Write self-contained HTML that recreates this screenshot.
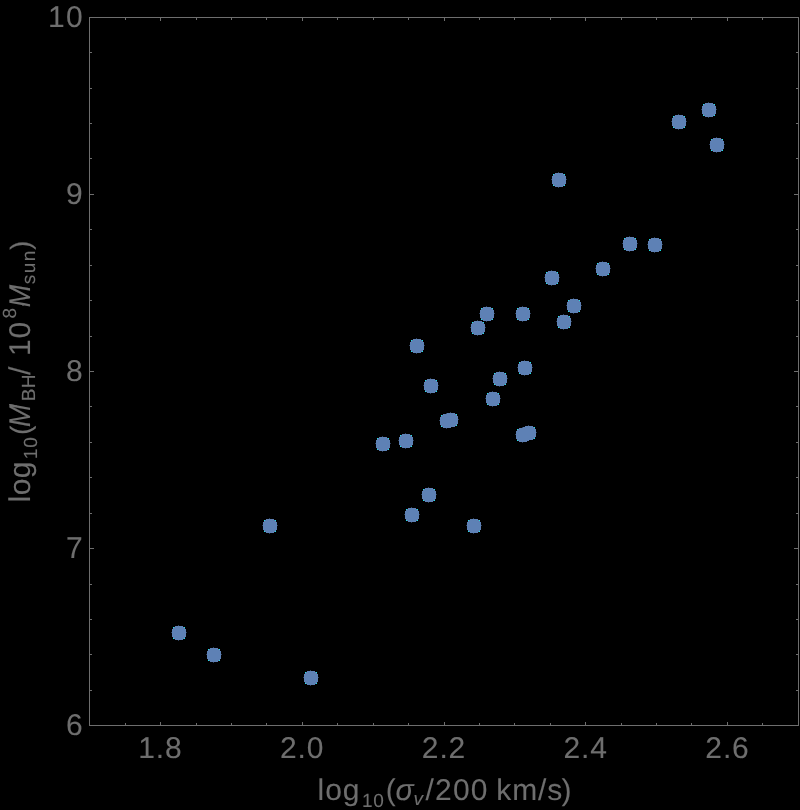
<!DOCTYPE html>
<html><head><meta charset="utf-8"><title>Chart</title>
<style>html,body{margin:0;padding:0;background:#000;}body{width:800px;height:810px;overflow:hidden;position:relative;font-family:"Liberation Sans",sans-serif;}</style></head>
<body>
<svg width="800" height="810" viewBox="0 0 800 810" style="position:absolute;left:0;top:0;will-change:transform">
<g shape-rendering="crispEdges" fill="#6e6e6e">
<rect x="89" y="17" width="710" height="1"/>
<rect x="89" y="725" width="710" height="1"/>
<rect x="89" y="17" width="1" height="709"/>
<rect x="798" y="17" width="1" height="709"/>
<rect x="125" y="723" width="1" height="2"/>
<rect x="125" y="18" width="1" height="2"/>
<rect x="160" y="722" width="1" height="3"/>
<rect x="160" y="18" width="1" height="3"/>
<rect x="196" y="723" width="1" height="2"/>
<rect x="196" y="18" width="1" height="2"/>
<rect x="231" y="723" width="1" height="2"/>
<rect x="231" y="18" width="1" height="2"/>
<rect x="266" y="723" width="1" height="2"/>
<rect x="266" y="18" width="1" height="2"/>
<rect x="302" y="722" width="1" height="3"/>
<rect x="302" y="18" width="1" height="3"/>
<rect x="337" y="723" width="1" height="2"/>
<rect x="337" y="18" width="1" height="2"/>
<rect x="373" y="723" width="1" height="2"/>
<rect x="373" y="18" width="1" height="2"/>
<rect x="408" y="723" width="1" height="2"/>
<rect x="408" y="18" width="1" height="2"/>
<rect x="444" y="722" width="1" height="3"/>
<rect x="444" y="18" width="1" height="3"/>
<rect x="479" y="723" width="1" height="2"/>
<rect x="479" y="18" width="1" height="2"/>
<rect x="514" y="723" width="1" height="2"/>
<rect x="514" y="18" width="1" height="2"/>
<rect x="550" y="723" width="1" height="2"/>
<rect x="550" y="18" width="1" height="2"/>
<rect x="585" y="722" width="1" height="3"/>
<rect x="585" y="18" width="1" height="3"/>
<rect x="621" y="723" width="1" height="2"/>
<rect x="621" y="18" width="1" height="2"/>
<rect x="656" y="723" width="1" height="2"/>
<rect x="656" y="18" width="1" height="2"/>
<rect x="691" y="723" width="1" height="2"/>
<rect x="691" y="18" width="1" height="2"/>
<rect x="727" y="722" width="1" height="3"/>
<rect x="727" y="18" width="1" height="3"/>
<rect x="762" y="723" width="1" height="2"/>
<rect x="762" y="18" width="1" height="2"/>
<rect x="90" y="690" width="2" height="1"/>
<rect x="796" y="690" width="2" height="1"/>
<rect x="90" y="654" width="2" height="1"/>
<rect x="796" y="654" width="2" height="1"/>
<rect x="90" y="619" width="2" height="1"/>
<rect x="796" y="619" width="2" height="1"/>
<rect x="90" y="584" width="2" height="1"/>
<rect x="796" y="584" width="2" height="1"/>
<rect x="90" y="548" width="4" height="1"/>
<rect x="794" y="548" width="4" height="1"/>
<rect x="90" y="513" width="2" height="1"/>
<rect x="796" y="513" width="2" height="1"/>
<rect x="90" y="477" width="2" height="1"/>
<rect x="796" y="477" width="2" height="1"/>
<rect x="90" y="442" width="2" height="1"/>
<rect x="796" y="442" width="2" height="1"/>
<rect x="90" y="406" width="2" height="1"/>
<rect x="796" y="406" width="2" height="1"/>
<rect x="90" y="371" width="4" height="1"/>
<rect x="794" y="371" width="4" height="1"/>
<rect x="90" y="336" width="2" height="1"/>
<rect x="796" y="336" width="2" height="1"/>
<rect x="90" y="300" width="2" height="1"/>
<rect x="796" y="300" width="2" height="1"/>
<rect x="90" y="265" width="2" height="1"/>
<rect x="796" y="265" width="2" height="1"/>
<rect x="90" y="229" width="2" height="1"/>
<rect x="796" y="229" width="2" height="1"/>
<rect x="90" y="194" width="4" height="1"/>
<rect x="794" y="194" width="4" height="1"/>
<rect x="90" y="158" width="2" height="1"/>
<rect x="796" y="158" width="2" height="1"/>
<rect x="90" y="123" width="2" height="1"/>
<rect x="796" y="123" width="2" height="1"/>
<rect x="90" y="88" width="2" height="1"/>
<rect x="796" y="88" width="2" height="1"/>
<rect x="90" y="52" width="2" height="1"/>
<rect x="796" y="52" width="2" height="1"/>
</g>
<g shape-rendering="crispEdges" fill="#1ee6e6">
<g transform="translate(172,626)"><rect x="1" y="1" width="1" height="1"/><rect x="12" y="1" width="1" height="1"/><rect x="1" y="12" width="1" height="1"/><rect x="12" y="12" width="1" height="1"/><g fill="#5e81b5" fill-opacity="0.5"><rect x="6" y="-1" width="1" height="1"/><rect x="6" y="14" width="1" height="1"/><rect x="-1" y="6" width="1" height="1"/><rect x="14" y="6" width="1" height="1"/></g></g>
<g transform="translate(207,648)"><rect x="1" y="1" width="1" height="1"/><rect x="12" y="1" width="1" height="1"/><rect x="1" y="12" width="1" height="1"/><rect x="12" y="12" width="1" height="1"/><g fill="#5e81b5" fill-opacity="0.5"><rect x="6" y="-1" width="1" height="1"/><rect x="6" y="14" width="1" height="1"/><rect x="-1" y="6" width="1" height="1"/><rect x="14" y="6" width="1" height="1"/></g></g>
<g transform="translate(304,671)"><rect x="1" y="1" width="1" height="1"/><rect x="12" y="1" width="1" height="1"/><rect x="1" y="12" width="1" height="1"/><rect x="12" y="12" width="1" height="1"/><g fill="#5e81b5" fill-opacity="0.5"><rect x="6" y="-1" width="1" height="1"/><rect x="6" y="14" width="1" height="1"/><rect x="-1" y="6" width="1" height="1"/><rect x="14" y="6" width="1" height="1"/></g></g>
<g transform="translate(263,519)"><rect x="1" y="1" width="1" height="1"/><rect x="12" y="1" width="1" height="1"/><rect x="1" y="12" width="1" height="1"/><rect x="12" y="12" width="1" height="1"/><g fill="#5e81b5" fill-opacity="0.5"><rect x="6" y="-1" width="1" height="1"/><rect x="6" y="14" width="1" height="1"/><rect x="-1" y="6" width="1" height="1"/><rect x="14" y="6" width="1" height="1"/></g></g>
<g transform="translate(376,437)"><rect x="1" y="1" width="1" height="1"/><rect x="12" y="1" width="1" height="1"/><rect x="1" y="12" width="1" height="1"/><rect x="12" y="12" width="1" height="1"/><g fill="#5e81b5" fill-opacity="0.5"><rect x="6" y="-1" width="1" height="1"/><rect x="6" y="14" width="1" height="1"/><rect x="-1" y="6" width="1" height="1"/><rect x="14" y="6" width="1" height="1"/></g></g>
<g transform="translate(399,434)"><rect x="1" y="1" width="1" height="1"/><rect x="12" y="1" width="1" height="1"/><rect x="1" y="12" width="1" height="1"/><rect x="12" y="12" width="1" height="1"/><g fill="#5e81b5" fill-opacity="0.5"><rect x="6" y="-1" width="1" height="1"/><rect x="6" y="14" width="1" height="1"/><rect x="-1" y="6" width="1" height="1"/><rect x="14" y="6" width="1" height="1"/></g></g>
<g transform="translate(440,414)"><rect x="1" y="1" width="1" height="1"/><rect x="12" y="1" width="1" height="1"/><rect x="1" y="12" width="1" height="1"/><rect x="12" y="12" width="1" height="1"/><g fill="#5e81b5" fill-opacity="0.5"><rect x="6" y="-1" width="1" height="1"/><rect x="6" y="14" width="1" height="1"/><rect x="-1" y="6" width="1" height="1"/><rect x="14" y="6" width="1" height="1"/></g></g>
<g transform="translate(444,413)"><rect x="1" y="1" width="1" height="1"/><rect x="12" y="1" width="1" height="1"/><rect x="1" y="12" width="1" height="1"/><rect x="12" y="12" width="1" height="1"/><g fill="#5e81b5" fill-opacity="0.5"><rect x="6" y="-1" width="1" height="1"/><rect x="6" y="14" width="1" height="1"/><rect x="-1" y="6" width="1" height="1"/><rect x="14" y="6" width="1" height="1"/></g></g>
<g transform="translate(422,488)"><rect x="1" y="1" width="1" height="1"/><rect x="12" y="1" width="1" height="1"/><rect x="1" y="12" width="1" height="1"/><rect x="12" y="12" width="1" height="1"/><g fill="#5e81b5" fill-opacity="0.5"><rect x="6" y="-1" width="1" height="1"/><rect x="6" y="14" width="1" height="1"/><rect x="-1" y="6" width="1" height="1"/><rect x="14" y="6" width="1" height="1"/></g></g>
<g transform="translate(410,339)"><rect x="1" y="1" width="1" height="1"/><rect x="12" y="1" width="1" height="1"/><rect x="1" y="12" width="1" height="1"/><rect x="12" y="12" width="1" height="1"/><g fill="#5e81b5" fill-opacity="0.5"><rect x="6" y="-1" width="1" height="1"/><rect x="6" y="14" width="1" height="1"/><rect x="-1" y="6" width="1" height="1"/><rect x="14" y="6" width="1" height="1"/></g></g>
<g transform="translate(424,379)"><rect x="1" y="1" width="1" height="1"/><rect x="12" y="1" width="1" height="1"/><rect x="1" y="12" width="1" height="1"/><rect x="12" y="12" width="1" height="1"/><g fill="#5e81b5" fill-opacity="0.5"><rect x="6" y="-1" width="1" height="1"/><rect x="6" y="14" width="1" height="1"/><rect x="-1" y="6" width="1" height="1"/><rect x="14" y="6" width="1" height="1"/></g></g>
<g transform="translate(471,321)"><rect x="1" y="1" width="1" height="1"/><rect x="12" y="1" width="1" height="1"/><rect x="1" y="12" width="1" height="1"/><rect x="12" y="12" width="1" height="1"/><g fill="#5e81b5" fill-opacity="0.5"><rect x="6" y="-1" width="1" height="1"/><rect x="6" y="14" width="1" height="1"/><rect x="-1" y="6" width="1" height="1"/><rect x="14" y="6" width="1" height="1"/></g></g>
<g transform="translate(480,307)"><rect x="1" y="1" width="1" height="1"/><rect x="12" y="1" width="1" height="1"/><rect x="1" y="12" width="1" height="1"/><rect x="12" y="12" width="1" height="1"/><g fill="#5e81b5" fill-opacity="0.5"><rect x="6" y="-1" width="1" height="1"/><rect x="6" y="14" width="1" height="1"/><rect x="-1" y="6" width="1" height="1"/><rect x="14" y="6" width="1" height="1"/></g></g>
<g transform="translate(493,372)"><rect x="1" y="1" width="1" height="1"/><rect x="12" y="1" width="1" height="1"/><rect x="1" y="12" width="1" height="1"/><rect x="12" y="12" width="1" height="1"/><g fill="#5e81b5" fill-opacity="0.5"><rect x="6" y="-1" width="1" height="1"/><rect x="6" y="14" width="1" height="1"/><rect x="-1" y="6" width="1" height="1"/><rect x="14" y="6" width="1" height="1"/></g></g>
<g transform="translate(486,392)"><rect x="1" y="1" width="1" height="1"/><rect x="12" y="1" width="1" height="1"/><rect x="1" y="12" width="1" height="1"/><rect x="12" y="12" width="1" height="1"/><g fill="#5e81b5" fill-opacity="0.5"><rect x="6" y="-1" width="1" height="1"/><rect x="6" y="14" width="1" height="1"/><rect x="-1" y="6" width="1" height="1"/><rect x="14" y="6" width="1" height="1"/></g></g>
<g transform="translate(516,307)"><rect x="1" y="1" width="1" height="1"/><rect x="12" y="1" width="1" height="1"/><rect x="1" y="12" width="1" height="1"/><rect x="12" y="12" width="1" height="1"/><g fill="#5e81b5" fill-opacity="0.5"><rect x="6" y="-1" width="1" height="1"/><rect x="6" y="14" width="1" height="1"/><rect x="-1" y="6" width="1" height="1"/><rect x="14" y="6" width="1" height="1"/></g></g>
<g transform="translate(545,271)"><rect x="1" y="1" width="1" height="1"/><rect x="12" y="1" width="1" height="1"/><rect x="1" y="12" width="1" height="1"/><rect x="12" y="12" width="1" height="1"/><g fill="#5e81b5" fill-opacity="0.5"><rect x="6" y="-1" width="1" height="1"/><rect x="6" y="14" width="1" height="1"/><rect x="-1" y="6" width="1" height="1"/><rect x="14" y="6" width="1" height="1"/></g></g>
<g transform="translate(567,299)"><rect x="1" y="1" width="1" height="1"/><rect x="12" y="1" width="1" height="1"/><rect x="1" y="12" width="1" height="1"/><rect x="12" y="12" width="1" height="1"/><g fill="#5e81b5" fill-opacity="0.5"><rect x="6" y="-1" width="1" height="1"/><rect x="6" y="14" width="1" height="1"/><rect x="-1" y="6" width="1" height="1"/><rect x="14" y="6" width="1" height="1"/></g></g>
<g transform="translate(557,315)"><rect x="1" y="1" width="1" height="1"/><rect x="12" y="1" width="1" height="1"/><rect x="1" y="12" width="1" height="1"/><rect x="12" y="12" width="1" height="1"/><g fill="#5e81b5" fill-opacity="0.5"><rect x="6" y="-1" width="1" height="1"/><rect x="6" y="14" width="1" height="1"/><rect x="-1" y="6" width="1" height="1"/><rect x="14" y="6" width="1" height="1"/></g></g>
<g transform="translate(596,262)"><rect x="1" y="1" width="1" height="1"/><rect x="12" y="1" width="1" height="1"/><rect x="1" y="12" width="1" height="1"/><rect x="12" y="12" width="1" height="1"/><g fill="#5e81b5" fill-opacity="0.5"><rect x="6" y="-1" width="1" height="1"/><rect x="6" y="14" width="1" height="1"/><rect x="-1" y="6" width="1" height="1"/><rect x="14" y="6" width="1" height="1"/></g></g>
<g transform="translate(518,361)"><rect x="1" y="1" width="1" height="1"/><rect x="12" y="1" width="1" height="1"/><rect x="1" y="12" width="1" height="1"/><rect x="12" y="12" width="1" height="1"/><g fill="#5e81b5" fill-opacity="0.5"><rect x="6" y="-1" width="1" height="1"/><rect x="6" y="14" width="1" height="1"/><rect x="-1" y="6" width="1" height="1"/><rect x="14" y="6" width="1" height="1"/></g></g>
<g transform="translate(516,428)"><rect x="1" y="1" width="1" height="1"/><rect x="12" y="1" width="1" height="1"/><rect x="1" y="12" width="1" height="1"/><rect x="12" y="12" width="1" height="1"/><g fill="#5e81b5" fill-opacity="0.5"><rect x="6" y="-1" width="1" height="1"/><rect x="6" y="14" width="1" height="1"/><rect x="-1" y="6" width="1" height="1"/><rect x="14" y="6" width="1" height="1"/></g></g>
<g transform="translate(522,426)"><rect x="1" y="1" width="1" height="1"/><rect x="12" y="1" width="1" height="1"/><rect x="1" y="12" width="1" height="1"/><rect x="12" y="12" width="1" height="1"/><g fill="#5e81b5" fill-opacity="0.5"><rect x="6" y="-1" width="1" height="1"/><rect x="6" y="14" width="1" height="1"/><rect x="-1" y="6" width="1" height="1"/><rect x="14" y="6" width="1" height="1"/></g></g>
<g transform="translate(552,173)"><rect x="1" y="1" width="1" height="1"/><rect x="12" y="1" width="1" height="1"/><rect x="1" y="12" width="1" height="1"/><rect x="12" y="12" width="1" height="1"/><g fill="#5e81b5" fill-opacity="0.5"><rect x="6" y="-1" width="1" height="1"/><rect x="6" y="14" width="1" height="1"/><rect x="-1" y="6" width="1" height="1"/><rect x="14" y="6" width="1" height="1"/></g></g>
<g transform="translate(623,237)"><rect x="1" y="1" width="1" height="1"/><rect x="12" y="1" width="1" height="1"/><rect x="1" y="12" width="1" height="1"/><rect x="12" y="12" width="1" height="1"/><g fill="#5e81b5" fill-opacity="0.5"><rect x="6" y="-1" width="1" height="1"/><rect x="6" y="14" width="1" height="1"/><rect x="-1" y="6" width="1" height="1"/><rect x="14" y="6" width="1" height="1"/></g></g>
<g transform="translate(648,238)"><rect x="1" y="1" width="1" height="1"/><rect x="12" y="1" width="1" height="1"/><rect x="1" y="12" width="1" height="1"/><rect x="12" y="12" width="1" height="1"/><g fill="#5e81b5" fill-opacity="0.5"><rect x="6" y="-1" width="1" height="1"/><rect x="6" y="14" width="1" height="1"/><rect x="-1" y="6" width="1" height="1"/><rect x="14" y="6" width="1" height="1"/></g></g>
<g transform="translate(672,115)"><rect x="1" y="1" width="1" height="1"/><rect x="12" y="1" width="1" height="1"/><rect x="1" y="12" width="1" height="1"/><rect x="12" y="12" width="1" height="1"/><g fill="#5e81b5" fill-opacity="0.5"><rect x="6" y="-1" width="1" height="1"/><rect x="6" y="14" width="1" height="1"/><rect x="-1" y="6" width="1" height="1"/><rect x="14" y="6" width="1" height="1"/></g></g>
<g transform="translate(702,103)"><rect x="1" y="1" width="1" height="1"/><rect x="12" y="1" width="1" height="1"/><rect x="1" y="12" width="1" height="1"/><rect x="12" y="12" width="1" height="1"/><g fill="#5e81b5" fill-opacity="0.5"><rect x="6" y="-1" width="1" height="1"/><rect x="6" y="14" width="1" height="1"/><rect x="-1" y="6" width="1" height="1"/><rect x="14" y="6" width="1" height="1"/></g></g>
<g transform="translate(710,138)"><rect x="1" y="1" width="1" height="1"/><rect x="12" y="1" width="1" height="1"/><rect x="1" y="12" width="1" height="1"/><rect x="12" y="12" width="1" height="1"/><g fill="#5e81b5" fill-opacity="0.5"><rect x="6" y="-1" width="1" height="1"/><rect x="6" y="14" width="1" height="1"/><rect x="-1" y="6" width="1" height="1"/><rect x="14" y="6" width="1" height="1"/></g></g>
<g transform="translate(405,508)"><rect x="1" y="1" width="1" height="1"/><rect x="12" y="1" width="1" height="1"/><rect x="1" y="12" width="1" height="1"/><rect x="12" y="12" width="1" height="1"/><g fill="#5e81b5" fill-opacity="0.5"><rect x="6" y="-1" width="1" height="1"/><rect x="6" y="14" width="1" height="1"/><rect x="-1" y="6" width="1" height="1"/><rect x="14" y="6" width="1" height="1"/></g></g>
<g transform="translate(467,519)"><rect x="1" y="1" width="1" height="1"/><rect x="12" y="1" width="1" height="1"/><rect x="1" y="12" width="1" height="1"/><rect x="12" y="12" width="1" height="1"/><g fill="#5e81b5" fill-opacity="0.5"><rect x="6" y="-1" width="1" height="1"/><rect x="6" y="14" width="1" height="1"/><rect x="-1" y="6" width="1" height="1"/><rect x="14" y="6" width="1" height="1"/></g></g>
</g>
<g shape-rendering="crispEdges" fill="#5e81b5">
<rect x="523" y="427" width="1" height="1"/>
<rect x="528" y="440" width="1" height="1"/>
<g transform="translate(172,626)"><rect x="3" y="0" width="8" height="14"/><rect x="0" y="3" width="14" height="8"/><rect x="1" y="2" width="12" height="10"/><rect x="2" y="1" width="10" height="12"/></g>
<g transform="translate(207,648)"><rect x="3" y="0" width="8" height="14"/><rect x="0" y="3" width="14" height="8"/><rect x="1" y="2" width="12" height="10"/><rect x="2" y="1" width="10" height="12"/></g>
<g transform="translate(304,671)"><rect x="3" y="0" width="8" height="14"/><rect x="0" y="3" width="14" height="8"/><rect x="1" y="2" width="12" height="10"/><rect x="2" y="1" width="10" height="12"/></g>
<g transform="translate(263,519)"><rect x="3" y="0" width="8" height="14"/><rect x="0" y="3" width="14" height="8"/><rect x="1" y="2" width="12" height="10"/><rect x="2" y="1" width="10" height="12"/></g>
<g transform="translate(376,437)"><rect x="3" y="0" width="8" height="14"/><rect x="0" y="3" width="14" height="8"/><rect x="1" y="2" width="12" height="10"/><rect x="2" y="1" width="10" height="12"/></g>
<g transform="translate(399,434)"><rect x="3" y="0" width="8" height="14"/><rect x="0" y="3" width="14" height="8"/><rect x="1" y="2" width="12" height="10"/><rect x="2" y="1" width="10" height="12"/></g>
<g transform="translate(440,414)"><rect x="3" y="0" width="8" height="14"/><rect x="0" y="3" width="14" height="8"/><rect x="1" y="2" width="12" height="10"/><rect x="2" y="1" width="10" height="12"/></g>
<g transform="translate(444,413)"><rect x="3" y="0" width="8" height="14"/><rect x="0" y="3" width="14" height="8"/><rect x="1" y="2" width="12" height="10"/><rect x="2" y="1" width="10" height="12"/></g>
<g transform="translate(422,488)"><rect x="3" y="0" width="8" height="14"/><rect x="0" y="3" width="14" height="8"/><rect x="1" y="2" width="12" height="10"/><rect x="2" y="1" width="10" height="12"/></g>
<g transform="translate(410,339)"><rect x="3" y="0" width="8" height="14"/><rect x="0" y="3" width="14" height="8"/><rect x="1" y="2" width="12" height="10"/><rect x="2" y="1" width="10" height="12"/></g>
<g transform="translate(424,379)"><rect x="3" y="0" width="8" height="14"/><rect x="0" y="3" width="14" height="8"/><rect x="1" y="2" width="12" height="10"/><rect x="2" y="1" width="10" height="12"/></g>
<g transform="translate(471,321)"><rect x="3" y="0" width="8" height="14"/><rect x="0" y="3" width="14" height="8"/><rect x="1" y="2" width="12" height="10"/><rect x="2" y="1" width="10" height="12"/></g>
<g transform="translate(480,307)"><rect x="3" y="0" width="8" height="14"/><rect x="0" y="3" width="14" height="8"/><rect x="1" y="2" width="12" height="10"/><rect x="2" y="1" width="10" height="12"/></g>
<g transform="translate(493,372)"><rect x="3" y="0" width="8" height="14"/><rect x="0" y="3" width="14" height="8"/><rect x="1" y="2" width="12" height="10"/><rect x="2" y="1" width="10" height="12"/></g>
<g transform="translate(486,392)"><rect x="3" y="0" width="8" height="14"/><rect x="0" y="3" width="14" height="8"/><rect x="1" y="2" width="12" height="10"/><rect x="2" y="1" width="10" height="12"/></g>
<g transform="translate(516,307)"><rect x="3" y="0" width="8" height="14"/><rect x="0" y="3" width="14" height="8"/><rect x="1" y="2" width="12" height="10"/><rect x="2" y="1" width="10" height="12"/></g>
<g transform="translate(545,271)"><rect x="3" y="0" width="8" height="14"/><rect x="0" y="3" width="14" height="8"/><rect x="1" y="2" width="12" height="10"/><rect x="2" y="1" width="10" height="12"/></g>
<g transform="translate(567,299)"><rect x="3" y="0" width="8" height="14"/><rect x="0" y="3" width="14" height="8"/><rect x="1" y="2" width="12" height="10"/><rect x="2" y="1" width="10" height="12"/></g>
<g transform="translate(557,315)"><rect x="3" y="0" width="8" height="14"/><rect x="0" y="3" width="14" height="8"/><rect x="1" y="2" width="12" height="10"/><rect x="2" y="1" width="10" height="12"/></g>
<g transform="translate(596,262)"><rect x="3" y="0" width="8" height="14"/><rect x="0" y="3" width="14" height="8"/><rect x="1" y="2" width="12" height="10"/><rect x="2" y="1" width="10" height="12"/></g>
<g transform="translate(518,361)"><rect x="3" y="0" width="8" height="14"/><rect x="0" y="3" width="14" height="8"/><rect x="1" y="2" width="12" height="10"/><rect x="2" y="1" width="10" height="12"/></g>
<g transform="translate(516,428)"><rect x="3" y="0" width="8" height="14"/><rect x="0" y="3" width="14" height="8"/><rect x="1" y="2" width="12" height="10"/><rect x="2" y="1" width="10" height="12"/></g>
<g transform="translate(522,426)"><rect x="3" y="0" width="8" height="14"/><rect x="0" y="3" width="14" height="8"/><rect x="1" y="2" width="12" height="10"/><rect x="2" y="1" width="10" height="12"/></g>
<g transform="translate(552,173)"><rect x="3" y="0" width="8" height="14"/><rect x="0" y="3" width="14" height="8"/><rect x="1" y="2" width="12" height="10"/><rect x="2" y="1" width="10" height="12"/></g>
<g transform="translate(623,237)"><rect x="3" y="0" width="8" height="14"/><rect x="0" y="3" width="14" height="8"/><rect x="1" y="2" width="12" height="10"/><rect x="2" y="1" width="10" height="12"/></g>
<g transform="translate(648,238)"><rect x="3" y="0" width="8" height="14"/><rect x="0" y="3" width="14" height="8"/><rect x="1" y="2" width="12" height="10"/><rect x="2" y="1" width="10" height="12"/></g>
<g transform="translate(672,115)"><rect x="3" y="0" width="8" height="14"/><rect x="0" y="3" width="14" height="8"/><rect x="1" y="2" width="12" height="10"/><rect x="2" y="1" width="10" height="12"/></g>
<g transform="translate(702,103)"><rect x="3" y="0" width="8" height="14"/><rect x="0" y="3" width="14" height="8"/><rect x="1" y="2" width="12" height="10"/><rect x="2" y="1" width="10" height="12"/></g>
<g transform="translate(710,138)"><rect x="3" y="0" width="8" height="14"/><rect x="0" y="3" width="14" height="8"/><rect x="1" y="2" width="12" height="10"/><rect x="2" y="1" width="10" height="12"/></g>
<g transform="translate(405,508)"><rect x="3" y="0" width="8" height="14"/><rect x="0" y="3" width="14" height="8"/><rect x="1" y="2" width="12" height="10"/><rect x="2" y="1" width="10" height="12"/></g>
<g transform="translate(467,519)"><rect x="3" y="0" width="8" height="14"/><rect x="0" y="3" width="14" height="8"/><rect x="1" y="2" width="12" height="10"/><rect x="2" y="1" width="10" height="12"/></g>
</g>
<g fill="#6e6e6e" stroke="#6e6e6e" stroke-width="0.1" text-rendering="geometricPrecision" font-family="Liberation Sans, sans-serif" font-size="30px">
<text x="83.1" y="734.9" text-anchor="end" letter-spacing="0.3">6</text>
<text x="83.1" y="557.9" text-anchor="end" letter-spacing="0.3">7</text>
<text x="83.1" y="380.9" text-anchor="end" letter-spacing="0.3">8</text>
<text x="83.1" y="203.9" text-anchor="end" letter-spacing="0.3">9</text>
<text x="84.0" y="26.9" text-anchor="end" letter-spacing="1.3">10</text>
<text x="160.4" y="757.8" text-anchor="middle" letter-spacing="0.9">1.8</text>
<text x="302.2" y="757.8" text-anchor="middle" letter-spacing="0.9">2.0</text>
<text x="444.0" y="757.8" text-anchor="middle" letter-spacing="0.9">2.2</text>
<text x="585.7" y="757.8" text-anchor="middle" letter-spacing="0.9">2.4</text>
<text x="727.5" y="757.8" text-anchor="middle" letter-spacing="0.9">2.6</text>
</g>
<g fill="#6e6e6e" stroke="#6e6e6e" stroke-width="0.1" text-rendering="geometricPrecision" font-family="Liberation Sans, sans-serif" font-size="30px"><text x="317.5" y="799.5" letter-spacing="1.0">log</text><text x="362" y="806.5" font-size="19px" letter-spacing="0.8">10</text><text x="385.8" y="799.5">(</text><text x="395.5" y="799.5" font-style="italic">σ</text><text x="413.5" y="804.5" font-size="19px" font-style="italic">v</text><text x="425.5" y="799.5" letter-spacing="1.2">/200</text><text x="496.3" y="799.5" letter-spacing="0.9">km/s</text><text x="561.5" y="799.5">)</text></g>
<g transform="translate(29.5,502.5) rotate(-90)" fill="#6e6e6e" stroke="#6e6e6e" stroke-width="0.1" text-rendering="geometricPrecision" font-family="Liberation Sans, sans-serif" font-size="30px"><text x="0" y="0" letter-spacing="0.5">log</text><text x="43.3" y="7" font-size="19px" letter-spacing="0.8">10</text><text x="67.5" y="0" font-size="28px">(</text><text transform="translate(75.5,0) scale(0.92,1)" font-style="italic">M</text><text x="101.2" y="5.8" font-size="19px" letter-spacing="0.4">BH</text><text x="127.5" y="0">/</text><text x="146.5" y="0" letter-spacing="0.9">10</text><text x="184" y="-13.5" font-size="19px">8</text><text transform="translate(195.2,0) scale(0.9,1)" font-style="italic">M</text><text x="218.3" y="5.8" font-size="19px" letter-spacing="1.4">sun</text><text x="252.5" y="0" font-size="28px">)</text></g>
</svg>
</body></html>
